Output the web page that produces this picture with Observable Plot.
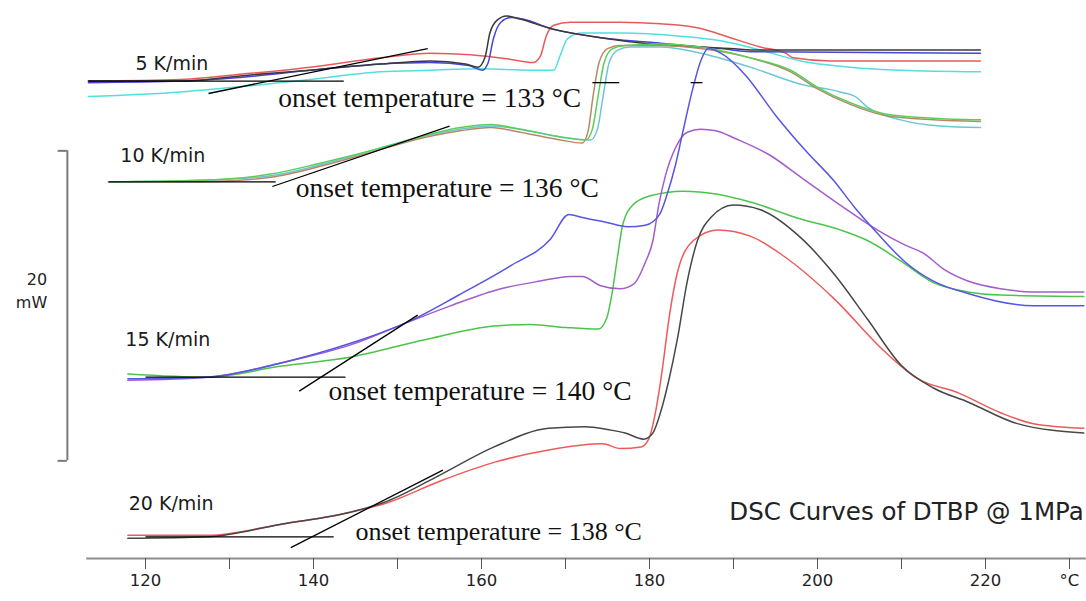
<!DOCTYPE html>
<html>
<head>
<meta charset="utf-8">
<script src="https://cdn.jsdelivr.net/npm/d3@7"></script>
<script src="https://cdn.jsdelivr.net/npm/@observablehq/plot@0.6"></script>
<style>
  html, body { margin: 0; padding: 0; background: #fff; }
  #chart svg { display: block; }
</style>
</head>
<body>
<div id="chart"></div>
<script>
// ---------- DATA (temperature °C, heat flow mW with arbitrary offsets) ----------
// 5 K/min
const t5Black = [113.2,124.2,132.5,139.6,148.0,153.9,158.1,159.6,160.4,161.0,161.8,163.0,164.6,168.2,174.2,180.1,186.1,189.6,193.2,219.4];
const q5Black = [30.8,30.8,31.2,31.5,31.9,32.1,31.9,31.7,32.3,33.9,34.7,35.0,34.8,34.2,33.6,33.2,33.0,32.9,32.8,32.8];
const t5Blue  = [113.2,124.2,132.5,139.6,148.0,153.9,158.5,160.1,160.8,161.4,162.3,163.5,164.9,168.2,174.2,180.1,186.1,188.5,192.0,219.4];
const q5Blue  = [30.7,30.8,31.1,31.5,31.9,32.0,31.8,31.5,32.0,33.5,34.6,34.9,34.8,34.2,33.6,33.3,33.0,32.9,32.7,32.6];
const t5Red   = [113.2,124.2,132.5,139.6,148.0,153.9,158.7,163.5,166.1,167.0,167.7,168.6,170.6,176.5,181.3,186.1,189.6,193.2,196.2,197.1,201.5,219.4];
const q5Red   = [30.8,30.9,31.3,31.7,32.3,32.6,32.5,32.2,32.0,32.4,33.7,34.4,34.6,34.6,34.5,34.2,33.6,33.0,32.6,32.3,32.1,32.1];
const t5Cyan  = [113.2,124.2,132.5,139.6,148.0,153.9,159.9,165.8,168.6,169.4,170.2,171.8,176.5,183.7,188.5,193.2,198.0,203.9,209.9,219.4];
const q5Cyan  = [29.8,30.1,30.5,30.9,31.4,31.5,31.6,31.5,31.5,32.5,33.5,33.9,33.9,33.7,33.4,32.8,32.1,31.7,31.5,31.4];
// 10 K/min
const t10Green = [115.6,126.5,134.9,140.8,146.8,152.7,157.5,161.1,164.6,169.4,172.4,173.2,173.9,174.6,175.6,177.1,181.3,186.1,192.0,196.8,200.0,203.9,207.9,213.8,219.4];
const q10Green = [24.3,24.4,24.8,25.5,26.3,27.2,27.8,28.0,27.7,27.2,27.0,27.7,29.9,32.0,32.9,33.1,33.2,33.0,32.3,31.5,30.4,29.4,28.7,28.4,28.3];
const t10Brown = [115.6,126.5,134.9,140.8,146.8,152.7,157.5,161.1,164.6,169.4,172.0,172.7,173.3,174.0,175.0,176.5,181.3,186.1,192.0,196.8,200.0,203.9,207.9,213.8,219.4];
const q10Brown = [24.3,24.3,24.6,25.3,26.2,27.1,27.6,27.8,27.5,27.0,26.8,27.6,29.9,32.0,32.9,33.1,33.1,32.9,32.3,31.4,30.3,29.3,28.6,28.3,28.2];
const t10Teal  = [115.6,126.5,134.9,140.8,146.8,152.7,157.5,161.1,164.6,169.4,173.0,173.8,174.5,175.2,176.2,177.7,181.3,186.1,192.0,198.0,202.7,204.5,206.0,209.9,214.6,219.4];
const q10Teal  = [24.3,24.4,24.7,25.4,26.3,27.2,27.7,27.9,27.7,27.2,27.0,27.7,29.9,32.0,32.8,33.0,33.0,32.6,31.7,30.6,30.1,29.8,29.1,28.3,27.9,27.8];
// 15 K/min
const t15Blue   = [117.9,127.4,136.0,144.5,151.0,157.3,163.5,168.2,170.4,172.0,174.8,177.4,179.5,181.2,182.1,183.1,184.0,185.1,186.1,187.0,188.5,191.4,195.0,198.6,201.9,204.5,207.1,210.5,213.8,217.9,225.7,231.7];
const q15Blue   = [11.6,11.7,12.6,13.9,15.2,17.0,18.9,20.6,22.2,22.0,21.7,21.4,21.5,22.2,23.5,25.4,27.6,30.2,32.1,32.9,32.6,31.2,28.6,26.3,24.4,22.6,21.0,19.1,17.9,17.1,16.3,16.3];
const t15Purple = [117.9,127.4,136.0,144.5,151.0,156.3,162.3,167.0,170.6,172.0,174.2,176.5,178.1,179.5,180.4,181.1,181.9,183.1,184.5,186.1,187.9,190.2,194.4,198.0,202.7,207.1,210.5,212.6,215.2,217.9,221.8,225.7,231.7];
const q15Purple = [11.5,11.7,12.6,13.8,15.2,16.3,17.4,17.9,18.2,18.2,17.6,17.4,17.7,19.1,20.5,22.8,24.7,26.5,27.5,27.7,27.6,27.1,26.0,24.6,22.8,21.2,20.2,19.7,18.6,17.9,17.4,17.2,17.2];
const t15Green  = [117.9,127.4,136.0,144.5,153.1,161.5,165.8,170.1,173.9,174.9,175.6,176.2,176.8,178.0,180.1,184.0,188.1,192.0,198.0,202.7,206.0,209.9,213.8,217.9,221.8,231.7];
const q15Green  = [11.9,11.7,12.4,13.0,14.1,15.0,15.1,14.9,14.8,15.5,17.3,19.5,21.5,22.8,23.4,23.7,23.5,23.0,21.9,21.2,20.5,19.2,17.8,17.2,17.0,16.9];
// 20 K/min
const t20Black = [117.9,127.5,136.0,144.5,148.8,155.1,161.5,168.0,172.3,175.2,177.1,179.3,180.4,181.3,182.3,183.3,184.5,185.7,187.3,190.0,193.2,198.0,201.9,206.0,209.9,213.8,217.9,223.8,231.7];
const q20Black = [1.3,1.4,2.2,3.0,3.7,5.4,7.2,8.4,8.5,8.3,8.1,7.7,8.1,9.4,11.5,14.1,17.9,20.5,22.0,22.8,22.5,20.7,18.4,15.4,12.5,11.0,10.1,8.7,8.1];
const t20Red   = [117.9,127.5,136.0,144.5,148.8,155.1,161.5,168.0,174.4,176.5,179.0,179.9,180.7,181.5,182.3,183.3,185.2,188.1,192.0,196.0,201.9,207.9,211.9,216.7,221.8,225.7,231.7];
const q20Red   = [1.5,1.5,2.2,3.0,3.6,5.0,6.2,7.0,7.4,7.1,7.2,7.7,9.4,12.1,15.4,18.4,20.5,21.2,20.8,19.5,16.8,13.4,11.6,10.7,9.4,8.7,8.4];

// labels
const rateNames  = ["5 K/min", "10 K/min", "15 K/min", "20 K/min"];
const rateLabelT = [118.8, 117.0, 117.6, 118.0];
const rateLabelQ = [31.9, 26.0, 14.1, 3.5];
const onsetTexts = ["onset temperature = 133 °C", "onset temperature = 136 °C", "onset temperature = 140 °C", "onset temperature = 138 °C"];
const onsetTextT = [135.8, 137.9, 141.8, 145.0];
const onsetTextQ = [29.7, 23.9, 10.8, 1.7];
const onsetFont  = [27.5, 27.5, 27.5, 26];
// onset construction lines: [T1, q1, T2, q2]
const onsetLines = [
  [113.2, 30.8, 143.6, 30.8], [127.5, 30.0, 153.6, 32.9],
  [173.2, 30.7, 176.4, 30.7], [184.9, 30.7, 186.3, 30.7],
  [115.6, 24.3, 135.5, 24.3], [135.1, 24.0, 156.2, 27.9],
  [120.0, 11.7, 143.8, 11.7], [138.3, 10.8, 152.4, 15.7],
  [120.0, 1.4, 142.4, 1.4],   [137.3, 0.7, 155.4, 5.7]
];
const titleText = "DSC Curves of DTBP @ 1MPa";
const xTicks = [120,130,140,150,160,170,180,190,200,210,220,230];
const xTickLabels = ["120","","140","","160","","180","","200","","220","°C"];
const scaleBarT = 110.7, scaleBarSerifT = 109.6, scaleBarLow = 6.3, scaleBarHigh = 26.3;
const scaleBarLabel = "20\nmW", scaleBarLabelT = 108.3, scaleBarLabelQ = 17.4;

// series table built from arrays
const seriesDefs = [
  ["5 K/min cyan",    t5Cyan,    q5Cyan,    "#4fe0e0"],
  ["5 K/min red",     t5Red,     q5Red,     "#e85a5a"],
  ["5 K/min blue",    t5Blue,    q5Blue,    "#4646d8"],
  ["5 K/min black",   t5Black,   q5Black,   "#3a3a3a"],
  ["10 K/min teal",   t10Teal,   q10Teal,   "#6cc6d6"],
  ["10 K/min brown",  t10Brown,  q10Brown,  "#b8876a"],
  ["10 K/min green",  t10Green,  q10Green,  "#58d058"],
  ["15 K/min green",  t15Green,  q15Green,  "#4cc44c"],
  ["15 K/min purple", t15Purple, q15Purple, "#a45ccc"],
  ["15 K/min blue",   t15Blue,   q15Blue,   "#5656e2"],
  ["20 K/min red",    t20Red,    q20Red,    "#ee5a5a"],
  ["20 K/min black",  t20Black,  q20Black,  "#474747"]
];

const lineMarks = seriesDefs.map(([id, T, Q, color]) =>
  Plot.line(T.map((t, i) => ({T: t, q: Q[i]})), {
    x: "T", y: "q", stroke: color, strokeWidth: 1.5, curve: "monotone-x"
  })
);

const rateLabels = rateNames.map((s, i) => ({s, T: rateLabelT[i], q: rateLabelQ[i]}));
const onsetLabels = onsetTexts.map((s, i) => ({s, T: onsetTextT[i], q: onsetTextQ[i], f: onsetFont[i]}));
const onsetSegs = onsetLines.map(([x1, y1, x2, y2]) => ({x1, y1, x2, y2}));

const chart = Plot.plot({
  width: 1086,
  height: 601,
  marginLeft: 86.2,
  marginRight: 0.2,
  marginTop: 0,
  marginBottom: 43,
  style: {fontFamily: "DejaVu Sans", fontSize: "16.5px", background: "#fff", color: "#222"},
  x: {domain: [113, 232]},
  y: {domain: [0, 36], axis: null},
  marks: [
    Plot.ruleY([0], {stroke: "#8c8c8c", strokeWidth: 2}),
    Plot.axisX({
      ticks: xTicks,
      tickFormat: (d) => xTickLabels[xTicks.indexOf(d)],
      tickSize: 11,
      tickPadding: 5,
      stroke: "#555",
      label: null
    }),
    // scale bar
    Plot.ruleX([scaleBarT], {y1: scaleBarLow, y2: scaleBarHigh, stroke: "#7a7a7a", strokeWidth: 2}),
    Plot.ruleY([scaleBarLow, scaleBarHigh], {x1: scaleBarSerifT, x2: scaleBarT, stroke: "#7a7a7a", strokeWidth: 2}),
    Plot.text([scaleBarLabel], {x: scaleBarLabelT, y: scaleBarLabelQ, text: (d) => d, textAnchor: "end", fontSize: 16, lineHeight: 1.45, fill: "#222"}),
    ...lineMarks,
    Plot.link(onsetSegs, {x1: "x1", y1: "y1", x2: "x2", y2: "y2", stroke: "#000", strokeWidth: 1.3}),
    Plot.text(rateLabels, {x: "T", y: "q", text: "s", textAnchor: "start", fontSize: 19, fill: "#1a1a1a"}),
    Plot.text(onsetLabels, {x: "T", y: "q", text: "s", textAnchor: "start", fontSize: (d) => d.f, fontFamily: "Liberation Serif", fill: "#111"}),
    Plot.text([titleText], {x: 231.7, y: 3.0, text: (d) => d, textAnchor: "end", fontSize: 24.5, fill: "#222"})
  ]
});
document.getElementById("chart").append(chart);
</script>
</body>
</html>
